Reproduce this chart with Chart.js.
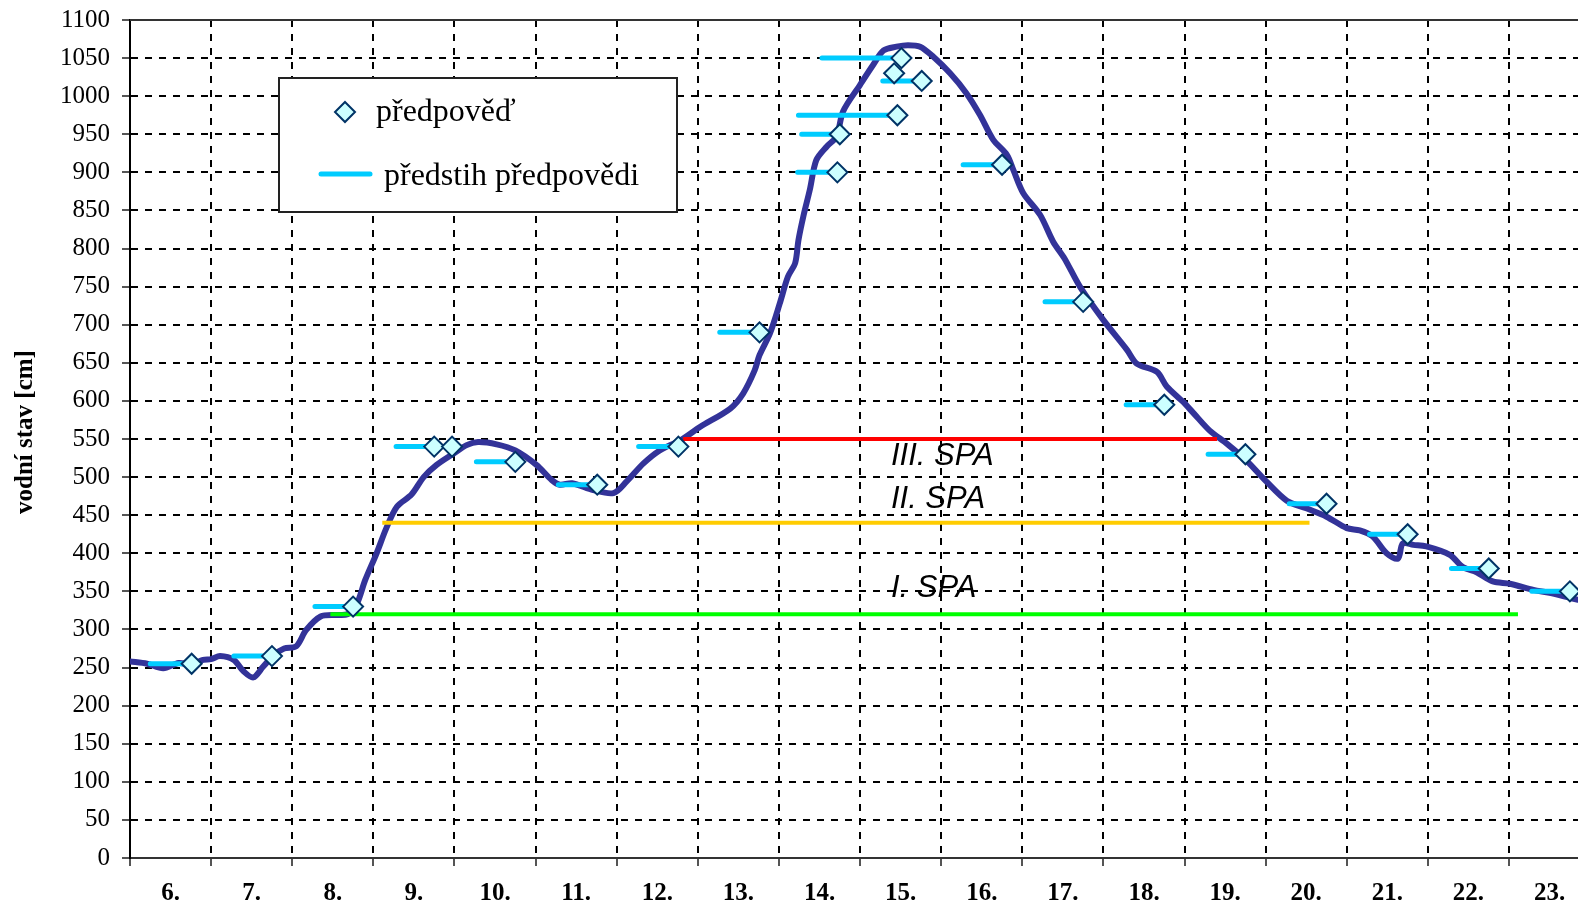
<!DOCTYPE html>
<html lang="cs">
<head>
<meta charset="utf-8">
<title>vodní stav</title>
<script src="https://cdn.jsdelivr.net/npm/chart.js@4.4.1/dist/chart.umd.min.js"></script>
<style>
  html, body { margin:0; padding:0; background:#fff; }
  #wrap { width:1578px; height:909px; }
</style>
</head>
<body>
<div id="wrap"><canvas id="chart" width="1578" height="909"></canvas></div>
<script>
// osa x: 0 = začátek 6. dne, jednotka = 1 den
const dayLabels = ['6.','7.','8.','9.','10.','11.','12.','13.','14.','15.','16.','17.','18.','19.','20.','21.','22.','23.'];

// pozorovaný vodní stav [cm]
const levelDay = [0.00,0.21,0.41,0.60,0.76,0.90,1.00,1.11,1.28,1.40,1.52,1.64,1.77,1.90,2.05,2.17,2.35,2.55,2.68,2.79,2.90,3.04,3.16,3.29,3.47,3.62,3.78,3.99,4.15,4.29,4.52,4.75,5.01,5.20,5.30,5.45,5.71,5.96,6.12,6.33,6.53,6.78,7.03,7.40,7.56,7.70,7.76,7.89,8.01,8.11,8.20,8.24,8.30,8.38,8.46,8.59,8.71,8.79,9.00,9.16,9.29,9.45,9.59,9.74,9.90,10.11,10.31,10.48,10.64,10.81,10.89,11.01,11.22,11.38,11.52,11.71,12.00,12.29,12.41,12.66,12.78,12.98,13.11,13.31,13.52,13.76,14.01,14.26,14.50,14.75,15.00,15.16,15.32,15.49,15.63,15.69,15.82,15.98,16.27,16.43,16.60,16.80,17.01,17.30,17.50,17.77,17.85];
const levelCm  = [258,255,249,256,254,260,261,265,260,245,237,251,266,275,278,299,317,319,320,332,365,400,433,461,477,500,516,531,542,546,543,535,516,496,490,492,483,479,494,518,535,548,566,590,610,640,660,689,728,763,781,811,842,877,916,934,947,980,1015,1041,1060,1065,1067,1065,1052,1030,1004,975,943,923,903,873,844,809,787,750,706,667,649,638,619,599,584,561,544,522,494,469,459,448,433,430,422,400,393,413,411,409,398,382,375,363,360,352,348,341,339];

// předpovědi: čas, hodnota, začátek předstihu (null = bez čáry)
const forecastDay = [0.76,1.75,2.75,3.75,3.97,4.75,5.76,6.76,7.76,8.72,8.75,9.46,9.51,9.42,9.76,10.75,11.75,12.75,13.75,14.75,15.75,16.75,17.75];
const forecastCm  = [255,265,330,540,540,520,490,540,690,900,950,975,1050,1030,1020,910,730,595,530,465,425,380,350];
const leadFromDay = [0.25,1.28,2.28,3.28,null,4.27,5.28,6.27,7.27,8.23,8.28,8.24,8.53,null,9.28,10.27,11.28,12.28,13.29,14.29,15.28,16.29,17.28];

// stupně povodňové aktivity
const spaNames = ['I. SPA','II. SPA','III. SPA'];
const spaCm    = [320, 440, 550];
const spaFrom  = [2.47, 3.11, 6.82];
const spaTo    = [17.11, 14.54, 13.40];

const colors = {
    level: '#333399',
    lead: '#00CCFF',
    diamondFill: '#CCFFFF',
    diamondLine: '#003366',
    spa: ['#00FF00', '#FFCC00', '#FF0000']
};

const serif = '"Liberation Serif", "Times New Roman", serif';

const levelData = levelDay.map((d, i) => ({ x: d, y: levelCm[i] }));
const forecastData = forecastDay.map((d, i) => ({ x: d, y: forecastCm[i] }));
const leadData = [];
forecastDay.forEach((d, i) => {
    if (leadFromDay[i] === null) return;
    leadData.push({ x: leadFromDay[i], y: forecastCm[i] }, { x: d, y: forecastCm[i] }, { x: d, y: null });
});

const spaSets = spaNames.map((name, i) => ({
    label: name,
    data: [{ x: spaFrom[i], y: spaCm[i] }, { x: spaTo[i], y: spaCm[i] }],
    borderColor: colors.spa[i],
    borderWidth: 4,
    pointRadius: 0,
    order: 2
}));

// horní okraj grafu, titulek osy y, popisky SPA a legenda v rámečku
const overlay = {
    id: 'overlay',
    beforeDatasetsDraw(chart) {
        const { ctx, chartArea: a } = chart;
        ctx.save();
        ctx.strokeStyle = '#333';
        ctx.lineWidth = 2;
        ctx.beginPath();
        ctx.moveTo(a.left, a.top);
        ctx.lineTo(a.right, a.top);
        ctx.stroke();

        ctx.translate(26, 432);
        ctx.rotate(-Math.PI / 2);
        ctx.fillStyle = '#000';
        ctx.font = 'bold 25px ' + serif;
        ctx.textAlign = 'center';
        ctx.textBaseline = 'middle';
        ctx.fillText('vodní stav [cm]', 0, 0);
        ctx.restore();
    },
    afterDatasetsDraw(chart) {
        const { ctx, scales: { x, y } } = chart;
        const labelDay = 9.38;
        const labelCm = [343, 459, 516];
        ctx.save();
        ctx.fillStyle = '#000';
        ctx.textBaseline = 'alphabetic';
        ctx.font = 'italic 31px "Liberation Sans", Arial, sans-serif';
        spaNames.forEach((name, i) => {
            ctx.fillText(name, x.getPixelForValue(labelDay), y.getPixelForValue(labelCm[i]));
        });

        // legenda
        ctx.fillStyle = '#fff';
        ctx.fillRect(279, 78, 398, 134);
        ctx.lineWidth = 2;
        ctx.strokeStyle = '#222';
        ctx.strokeRect(279, 78, 398, 134);

        ctx.beginPath();
        ctx.moveTo(345, 102); ctx.lineTo(355, 112); ctx.lineTo(345, 122); ctx.lineTo(335, 112); ctx.closePath();
        ctx.fillStyle = colors.diamondFill;
        ctx.fill();
        ctx.strokeStyle = colors.diamondLine;
        ctx.stroke();

        ctx.beginPath();
        ctx.lineCap = 'round';
        ctx.lineWidth = 5;
        ctx.strokeStyle = colors.lead;
        ctx.moveTo(321, 174); ctx.lineTo(370, 174);
        ctx.stroke();

        ctx.fillStyle = '#000';
        ctx.font = '32px ' + serif;
        ctx.fillText('předpověď', 376, 121);
        ctx.fillText('předstih předpovědi', 384, 185);
        ctx.restore();
    }
};

const isWhole = (ctx) => ctx.tick && Number.isInteger(ctx.tick.value);
const noPadding = (scale) => {
    scale.paddingLeft = 0;
    scale.paddingRight = 0;
    scale.paddingTop = 0;
    scale.paddingBottom = 0;
};

new Chart(document.getElementById('chart'), {
    type: 'line',
    data: {
        datasets: [
            {
                label: 'předpověď',
                data: forecastData,
                showLine: false,
                pointStyle: 'rectRot',
                pointRadius: 10,
                pointBackgroundColor: colors.diamondFill,
                pointBorderColor: colors.diamondLine,
                pointBorderWidth: 2,
                order: 0
            },
            {
                label: 'předstih předpovědi',
                data: leadData,
                borderColor: colors.lead,
                borderWidth: 5,
                borderCapStyle: 'round',
                pointRadius: 0,
                spanGaps: false,
                order: 1
            },
            ...spaSets,
            {
                label: 'vodní stav',
                data: levelData,
                borderColor: colors.level,
                borderWidth: 6,
                borderJoinStyle: 'round',
                borderCapStyle: 'round',
                pointRadius: 0,
                tension: 0.3,
                order: 3
            }
        ]
    },
    options: {
        responsive: false,
        devicePixelRatio: 1,
        animation: false,
        events: [],
        // bez automatického odsazení kvůli velikosti bodů
        layout: { autoPadding: false, padding: { top: 20, right: 0, bottom: 0, left: 0 } },
        plugins: { legend: { display: false }, tooltip: { enabled: false } },
        scales: {
            x: {
                type: 'linear',
                min: 0,
                max: 17.85,
                afterBuildTicks: (axis) => {
                    const t = [];
                    for (let i = 0; i < 36; i++) { t.push({ value: i / 2 }); }
                    axis.ticks = t;
                },
                afterFit: (scale) => {
                    scale.height = 51;
                    noPadding(scale);
                },
                grid: {
                    color: (c) => isWhole(c) ? '#000' : 'rgba(0,0,0,0)',
                    tickColor: (c) => isWhole(c) ? '#555' : 'rgba(0,0,0,0)',
                    lineWidth: 2,
                    tickLength: 8,
                    tickBorderDash: [],
                    tickWidth: 2
                },
                border: { display: true, color: '#333', width: 2, dash: [7, 7] },
                ticks: {
                    autoSkip: false,
                    maxRotation: 0,
                    padding: 13,
                    color: '#000',
                    font: { family: serif, size: 25, weight: 'bold' },
                    callback: (v) => Number.isInteger(v) ? '' : dayLabels[Math.floor(v)]
                }
            },
            y: {
                min: 0,
                max: 1100,
                afterFit: (scale) => {
                    scale.width = 130;
                    noPadding(scale);
                },
                grid: {
                    color: '#000',
                    tickColor: '#555',
                    lineWidth: 2,
                    tickLength: 8,
                    tickBorderDash: [],
                    tickWidth: 2
                },
                border: { display: true, color: '#000', width: 2, dash: [7, 7] },
                ticks: {
                    stepSize: 50,
                    padding: 12,
                    color: '#000',
                    font: { family: serif, size: 25 },
                    callback: (v) => String(v)
                }
            }
        }
    },
    plugins: [overlay]
});
</script>
</body>
</html>
